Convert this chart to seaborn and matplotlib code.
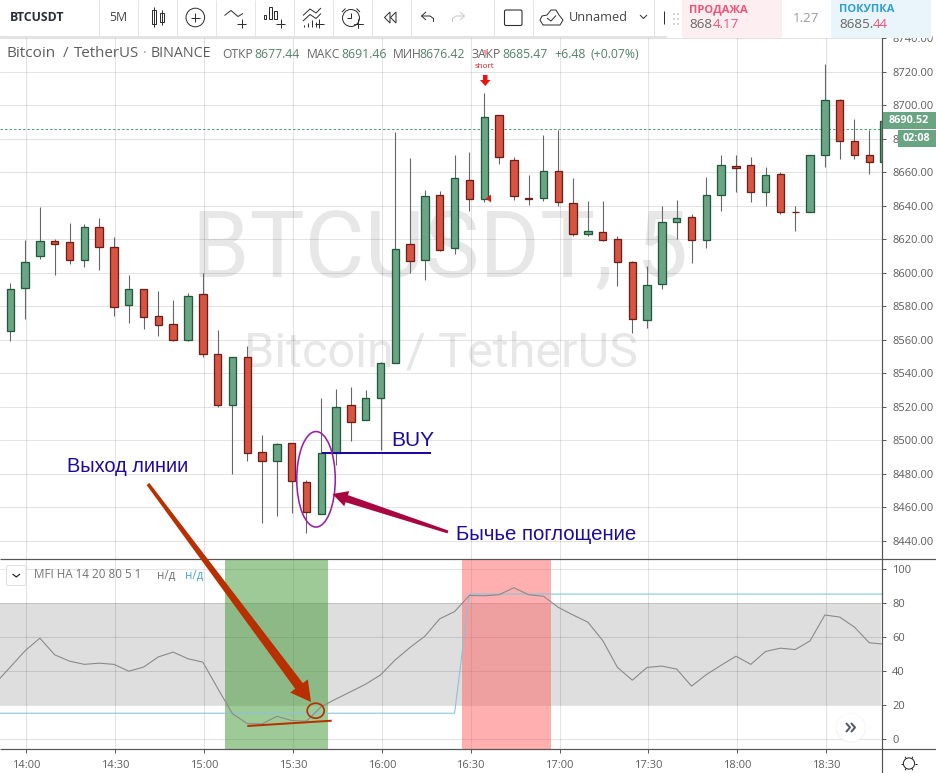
import matplotlib
matplotlib.use("Agg")
import matplotlib.pyplot as plt
from matplotlib.patches import Rectangle, Ellipse, Polygon, FancyBboxPatch, Circle
import seaborn as sns
import numpy as np

# ---- data -----------------------------------------------------------------
opens = [8565.4,8591,8610,8619,8618.5,8607.8,8627.5,8615.5,8581,8590,8574.2,8569.6,8560,8587,8551.4,
         8520.9,8549.8,8492.8,8487.4,8498.2,8474.9,8456.3,8492.2,8520.9,8511.9,8525,8546.4,8617,8607.5,8646.3,
         8614.7,8655.3,8643.7,8694,8667,8644.5,8644.3,8660.6,8641.6,8623,8624.2,8620,8606.4,8571.8,8593,
         8630,8633,8619.5,8646.3,8663.6,8664.2,8648,8658.8,8636.3,8636,8670,8703,8678.5,8670,8666]
closes = [8590,8606.6,8619,8617.3,8607.8,8627,8615.5,8579.8,8590,8573.8,8569,8560,8586.3,8551.7,8520.9,
          8549.8,8492.2,8487.4,8497.6,8475.5,8457,8492.2,8519.7,8510.7,8525,8546,8614,8607,8645.7,8613.3,
          8656.5,8643.7,8692.8,8669,8646,8644,8660.6,8642,8623,8624.8,8619.5,8606.4,8572.4,8592.7,8630,
          8632.6,8619.5,8646.3,8664,8662.4,8648,8658.2,8636,8636,8670,8703,8678.5,8670,8666,8690.5]
highs = [8594,8619.3,8639,8620.3,8629.5,8629,8632.8,8621,8598.5,8590.5,8589,8584,8587.7,8600,8565.6,
         8550,8556,8503.1,8498.4,8498.5,8476.3,8525.3,8530.6,8531.8,8529.8,8546.6,8684,8668.6,8649.3,8648.7,
         8670.4,8672,8707,8694,8669,8658,8682.3,8685,8656.7,8643,8643,8622,8607,8604,8640,
         8643.6,8635,8657,8670.4,8670.4,8669,8663,8660,8639.8,8670,8724.6,8703.6,8691.6,8685,8690.5]
lows = [8559,8572.4,8608,8598.6,8605,8603.4,8601.6,8574,8570,8566.4,8562.3,8559,8559,8549.7,8520,
        8480,8487.6,8450.8,8455,8456.7,8444.8,8456,8485.4,8499.8,8511.9,8494.4,8546,8599.6,8595.6,8612.7,
        8611,8636.6,8642,8665,8643.6,8640.4,8643,8640,8621.7,8621.7,8619,8592,8564,8567,8590,
        8620,8605.6,8615,8637,8648,8642,8639.6,8635,8624.6,8636,8662.8,8668,8667.6,8658.6,8666]
mfi_values = [33,42.4,52,59.4,49.6,45.9,44,44.7,44,40,42.4,48.4,51.2,47.3,45.3,30,15,9.2,9,13.5,11,10.6,19.2,
              23.7,28,32.4,37.8,46.7,54,60.6,70.8,75,84.5,84.3,84.9,89,84.9,84,77.5,73,68.8,58,42.2,34.7,42.2,
              43,41.2,31.2,38,43.5,48.8,44,51.6,53.5,52.7,57.8,73,71.8,65.9,56.7,55.9]
signal_values = [15.3]*32 + [85.3]*29
price_ticks = list(range(8440, 8741, 20))
mfi_ticks = [0, 20, 40, 60, 80, 100]
time_labels = ["14:00","14:30","15:00","15:30","16:00","16:30","17:00","17:30","18:00","18:30"]
last_close = 8685.47

# ---- theme ------------------------------------------------------------------
sns.set_theme(style="white")
UI = ["Open Sans", "DejaVu Sans"]
plt.rcParams["font.family"] = UI
GRAY = "#5d5d5d"
px = 72 / 100  # one pixel in points
W, H = 936, 773
fig = plt.figure(figsize=(W/100, H/100), dpi=100, facecolor="white")

def box(l, t, r, b):
    return [l/W, 1-b/H, (r-l)/W, (b-t)/H]

ax1 = fig.add_axes(box(0, 37, 882.3, 558.5))
ax2 = fig.add_axes(box(0, 558.5, 882.3, 749.3))
ov = fig.add_axes([0, 0, 1, 1], zorder=10)
ov.set_xlim(0, W); ov.set_ylim(H, 0); ov.axis("off"); ov.patch.set_alpha(0)

XLIM = (-0.695, 58.88)
xs = np.arange(len(opens))
time_pos = [1.09 + 6*i for i in range(len(time_labels))]

# ---- price pane --------------------------------------------------------------
ax1.set_xlim(*XLIM); ax1.set_ylim(8429.5, 8740.6)
ax1.set_axisbelow(True)
ax1.grid(True, color="black", alpha=0.11, lw=1.1*px)
for cx, wm, fs, y0 in [(440, "BTCUSDT, 5", 66.5, 252), (441, "Bitcoin / TetherUS", 35, 354)]:
    ax1.text(cx, y0, wm, transform=ov.transData, ha="center", va="center", fontsize=fs,
             color="#e7e7e7", zorder=0.4, family=["Roboto"])
ups = [c >= o for o, c in zip(opens, closes)]
ax1.vlines(xs, lows, highs, color="#666666", lw=1.1*px, zorder=2)
ax1.bar(xs, np.abs(np.array(closes)-np.array(opens)), bottom=np.minimum(opens, closes), width=0.5,
        color=["#6ba583" if u else "#d75442" for u in ups],
        edgecolor=["#1f5a3c" if u else "#6b1f17" for u in ups], linewidth=1.3*px, zorder=3)
ax1.axhline(last_close, color="#53a07d", lw=1*px, ls=(0, (2.5, 2)), zorder=1.8)
ax1.set_yticks(price_ticks)
ax1.set_yticklabels([f"{v:.2f}" for v in price_ticks])
ax1.set_xticks(time_pos); ax1.tick_params(axis="x", length=0, labelbottom=False)

# ---- MFI pane ----------------------------------------------------------------
ax2.set_xlim(*XLIM); ax2.set_ylim(-5.9, 106.2)
ax2.set_axisbelow(True)
ax2.grid(True, color="black", alpha=0.11, lw=1.1*px)
ax2.axhspan(20, 80, xmax=0.999, color="#dedede", lw=0, zorder=0.2)
ax2.axvspan(14.5, 21.43, color="#3c9630", alpha=0.5, lw=0, zorder=1.5)
ax2.axvspan(30.52, 36.51, color="#ff6161", alpha=0.5, lw=0, zorder=1.5)
sns.lineplot(x=np.arange(-1, 60), y=mfi_values, ax=ax2, color="#8a8a8a", linewidth=1.1*px,
             estimator=None, errorbar=None, legend=False, zorder=2.2)
sns.lineplot(x=np.arange(-1, 60), y=signal_values, ax=ax2, color="#85c5da", linewidth=1.1*px,
             estimator=None, errorbar=None, legend=False, zorder=2.1)
ax2.set_yticks(mfi_ticks); ax2.set_yticklabels([str(v) for v in mfi_ticks])
ax2.set_xticks(time_pos); ax2.set_xticklabels(time_labels)
ax2.set_xlabel(""); ax2.set_ylabel("")

for a in (ax1, ax2):
    for s in a.spines.values():
        s.set_visible(False)
    a.yaxis.tick_right()
    a.tick_params(axis="y", length=3.5*px, width=1*px, color=GRAY, labelcolor=GRAY, labelsize=8.0, pad=4.5, right=True)
ax2.tick_params(axis="x", length=4*px, width=1*px, color=GRAY, labelcolor=GRAY, labelsize=8.0, pad=5, bottom=True)

# ---- overlay helpers (pixel coordinates) --------------------------------------
def T(x, y, s, c=GRAY, fs=8.0, w="normal", ha="left", fam=None, z=5):
    return ov.text(x, y, s, color=c, fontsize=fs, fontweight=w, ha=ha, va="center",
                   family=fam or UI, zorder=z)

def L(xv, yv, c=GRAY, lw=1.0, z=5, **kw):
    ov.plot(xv, yv, color=c, lw=lw*px, zorder=z, solid_capstyle=kw.pop("cap", "butt"), **kw)

def arrow(x0, y0, x1, y1, w0, w1, hw, hl, c, z=6):
    d = np.array([x1-x0, y1-y0], float); n = np.hypot(*d); d /= n; p = np.array([-d[1], d[0]])
    a, b = np.array([x0, y0], float), np.array([x1, y1], float); m = b - d*hl
    ov.add_patch(Polygon([a+p*w0/2, m+p*w1/2, m+p*hw/2, b, m-p*hw/2, m-p*w1/2, a-p*w0/2],
                         closed=True, fc=c, ec="none", zorder=z))

# pane borders
L([0, W], [558.5, 558.5], "#555555", 1.2)
L([0, W], [749.3, 749.3], "#555555", 1.2)
L([882.3, 882.3], [37, H], "#555555", 1.2)

# ---- header strip ----------------------------------------------------------------
ov.add_patch(Rectangle((0, 0), W, 36, fc="white", ec="none", zorder=3))
L([0, 667], [36.5, 36.5], "#e3e3e3", 2, z=3.5)
for xv in [98.5, 137.5, 176.5, 215.5, 254.5, 293.5, 332.5, 371.5, 410.5, 493.5, 532.5, 653.5]:
    L([xv, xv], [0, 36], "#e4e4e4", 1)
T(10, 17.5, "BTCUSDT", "#2a2e39", 8.8, "bold")
T(109, 17.5, "5M", "#444444", 8.8)
DK = "#2f2f2f"
ov.add_patch(Rectangle((151.5, 10), 4.5, 14, fc="none", ec=DK, lw=1*px, zorder=5))
ov.add_patch(Rectangle((159.5, 13), 4, 8.5, fc="none", ec=DK, lw=1*px, zorder=5))
L([153.7, 153.7], [7, 27], DK); L([161.5, 161.5], [10, 25], DK)
ov.add_patch(Circle((195.3, 17.5), 9.3, fc="none", ec=DK, lw=1*px, zorder=5))
def plus(x, y, r=4.5):
    L([x-r, x+r], [y, y], DK); L([x, x], [y-r, y+r], DK)
plus(195.3, 17.5); plus(241.5, 23.5); plus(280.5, 23.5); plus(319, 23.5); plus(358, 23.5)
L([224.5, 231, 238, 243], [15.5, 10.5, 16.5, 13.5], DK)
for bx, bt in [(265, 15), (270.5, 7), (275.5, 11)]:
    ov.add_patch(Rectangle((bx-1.2, bt), 2.4, 19-bt, fc="none", ec=DK, lw=1*px, zorder=5))
L([303, 310, 316, 321], [15.5, 9, 13, 8], DK); L([303, 310, 316, 321], [21, 14.5, 18.5, 13.5], DK)
for bx, bt in [(304, 25), (308, 23), (312, 20), (316, 22)]:
    L([bx, bx], [bt, 26.5], DK)
ov.add_patch(Circle((351, 18), 8.5, fc="none", ec=DK, lw=1*px, zorder=5))
L([351, 351, 347], [12.5, 18, 18], DK); L([342, 345.5], [12, 8.5], DK); L([356.5, 360], [8.5, 12], DK)
ov.add_patch(Rectangle((354, 19), 9, 9, fc="white", ec="none", zorder=4.9)); plus(358, 23.5)
ov.add_patch(Polygon([(384.5, 17.5), (390, 12), (390, 23)], closed=True, fc="none", ec=DK, lw=1*px, zorder=5))
ov.add_patch(Polygon([(390.5, 17.5), (396, 12), (396, 23)], closed=True, fc="none", ec=DK, lw=1*px, zorder=5))
L([426, 421.5, 426], [12, 16, 20], DK); L([421.5, 430, 433.5, 433.5], [16, 16, 18.5, 22], DK)
L([460, 464.5, 460], [12, 16, 20], "#c9c9c9"); L([464.5, 456, 452.5, 452.5], [16, 16, 18.5, 22], "#c9c9c9")
ov.add_patch(FancyBboxPatch((504.5, 10), 17.5, 15.5, boxstyle="round,pad=0,rounding_size=1.5", fc="none", ec=DK, lw=1.1*px, zorder=5))
L([543, 540, 542, 547, 551, 556, 559, 563, 560, 543], [25, 20, 16, 15, 10, 10, 15, 20, 25, 25], DK)
L([547, 551, 556], [18, 21, 15.5], DK)
T(568.5, 17.5, "Unnamed", "#444444", 9.2)
L([640, 643.5, 647], [15, 18.5, 15], DK)
L([664, 664], [11, 24], DK)

HD = "#5d5d5d"
T(7, 53.5, "Bitcoin", HD, 11); T(63, 53.5, "/", HD, 11); T(74, 53.5, "TetherUS", HD, 10.9)
T(143, 53.5, "·", "#9a9a9a", 10)
T(151, 53.5, "BINANCE", HD, 10.3)
GRN = "#53816d"
for x0, lab, xv, val in [(222, "ОТКР", 254.5, "8677.44"), (306.5, "МАКС", 341, "8691.46"),
                         (392.5, "МИН", 419, "8676.42"), (472, "ЗАКР", 502, "8685.47")]:
    T(x0, 54.5, lab, "#666666", 8.7)
    T(xv, 54.5, val, GRN, 8.8)
T(554, 54.5, "+6.48", GRN, 8.8); T(590.5, 54.5, "(+0.07%)", GRN, 8.8)

# quote popup
ov.add_patch(FancyBboxPatch((667, -3), 265, 41, boxstyle="round,pad=0,rounding_size=2", fc="#d8dde2", ec="none", alpha=.6, zorder=6.8))
ov.add_patch(Rectangle((666.7, 0), 265, 37.5, fc="white", ec="none", zorder=7))
ov.add_patch(Rectangle((681.7, 0), 100, 37.5, fc="#fdeef1", ec="none", zorder=7.1))
ov.add_patch(Rectangle((831, 0), 100, 37.5, fc="#e9f4fb", ec="none", zorder=7.1))
for dx in (672.5, 676.5):
    for dy in (13, 18, 23):
        ov.add_patch(Rectangle((dx, dy), 2, 2, fc="#d6d6d6", ec="none", zorder=7.2))
T(689, 9.5, "ПРОДАЖА", "#f0537a", 8, "bold", z=8)
T(689, 25, "868", "#666666", 9.6, z=8); T(712.5, 25, "4.17", "#f0537a", 9.6, z=8)
T(793, 18.5, "1.27", "#9a9a9a", 9.6, z=8)
T(839, 9.5, "ПОКУПКА", "#2f9fd8", 8, "bold", z=8)
T(839, 25, "8685.", "#666666", 9.6, z=8); T(873, 25, "44", "#f0537a", 9.6, z=8)

# last price tags
ov.add_patch(Rectangle((882.5, 112), 53.5, 17, fc="#6aa583", ec="none", zorder=6))
T(909, 120.5, "8690.52", "white", 7.8, "bold", ha="center", z=7)
ov.add_patch(Rectangle((897.5, 130), 38.5, 17, fc="#6aa583", ec="none", zorder=6))
T(916.5, 138.5, "02:08", "white", 7.8, "bold", ha="center", z=7)

# ---- hand-drawn annotations ---------------------------------------------------------
RED = "#ee1111"
T(484, 67, "short", "#d62020", 5.8, ha="center", z=7)
ov.add_patch(Polygon([(483, 75), (487.5, 75), (487.5, 80), (490.5, 80), (485.3, 86), (480, 80), (483, 80)], closed=True, fc=RED, ec="none", zorder=7))
ov.add_patch(Polygon([(486, 198.5), (491, 194.5), (491, 202.5)], closed=True, fc=RED, ec="none", zorder=7))
ov.add_patch(Polygon([(483, 50), (488, 50), (485.5, 57)], closed=True, fc="#f3a0a0", ec="none", zorder=7))

INK = "#1c0a9e"
AN = ["Liberation Sans", "DejaVu Sans"]
L([322, 431], [453, 453], INK, 2)
T(391, 440, "BUY", INK, 15, fam=AN)
T(67, 466, "Выход линии", INK, 14.4, fam=AN)
T(456, 534, "Бычье поглощение", INK, 14.7, fam=AN)
ov.add_patch(Ellipse((316, 479.3), 38.5, 95.5, fc="none", ec="#9a1fa8", lw=1.6*px, zorder=6))
arrow(448, 532, 332.5, 494, 3, 7.5, 16, 15, "#a8063f")
BR = "#b83000"
arrow(148, 484, 311, 702, 3.5, 9.5, 22, 20, BR)
ov.add_patch(Ellipse((315.7, 710.7), 17, 15, fc="none", ec=BR, lw=1.7*px, zorder=6))
L([247.3, 331.7], [726, 720.7], BR, 2, z=6)

# legend chip in MFI pane
ov.add_patch(FancyBboxPatch((6.5, 565.5), 19.5, 20, boxstyle="round,pad=0,rounding_size=2", fc="white", ec="#dcdcdc", lw=1*px, zorder=5))
L([12.5, 16.3, 20], [574, 577, 574], "#222222", 1.2)
T(34, 575, "MFI HA 14 20 80 5 1", "#757575", 8.4)
T(157, 575, "н/д", "#757575", 8.4); T(184.5, 575, "н/д", "#4fa9cf", 8.4)

# scroll button and settings icon
ov.add_patch(Circle((851, 728), 15, fc="#eeeeee", ec="none", alpha=.6, zorder=5))
ov.add_patch(Circle((851, 727.5), 14, fc="white", ec="none", zorder=5.1))
L([846, 850, 846], [723, 727.5, 732], "#555a66", 2, z=5.2); L([851, 855, 851], [723, 727.5, 732], "#555a66", 2, z=5.2)
ov.add_patch(Circle((909, 763.5), 5.6, fc="white", ec="#222222", lw=1*px, zorder=5))
for an in np.arange(0, 2*np.pi, np.pi/3):
    L([909+5.6*np.cos(an), 909+7.8*np.cos(an)], [763.5+5.6*np.sin(an), 763.5+7.8*np.sin(an)], "#222222", 1)

fig.savefig("out.png", dpi=100)
